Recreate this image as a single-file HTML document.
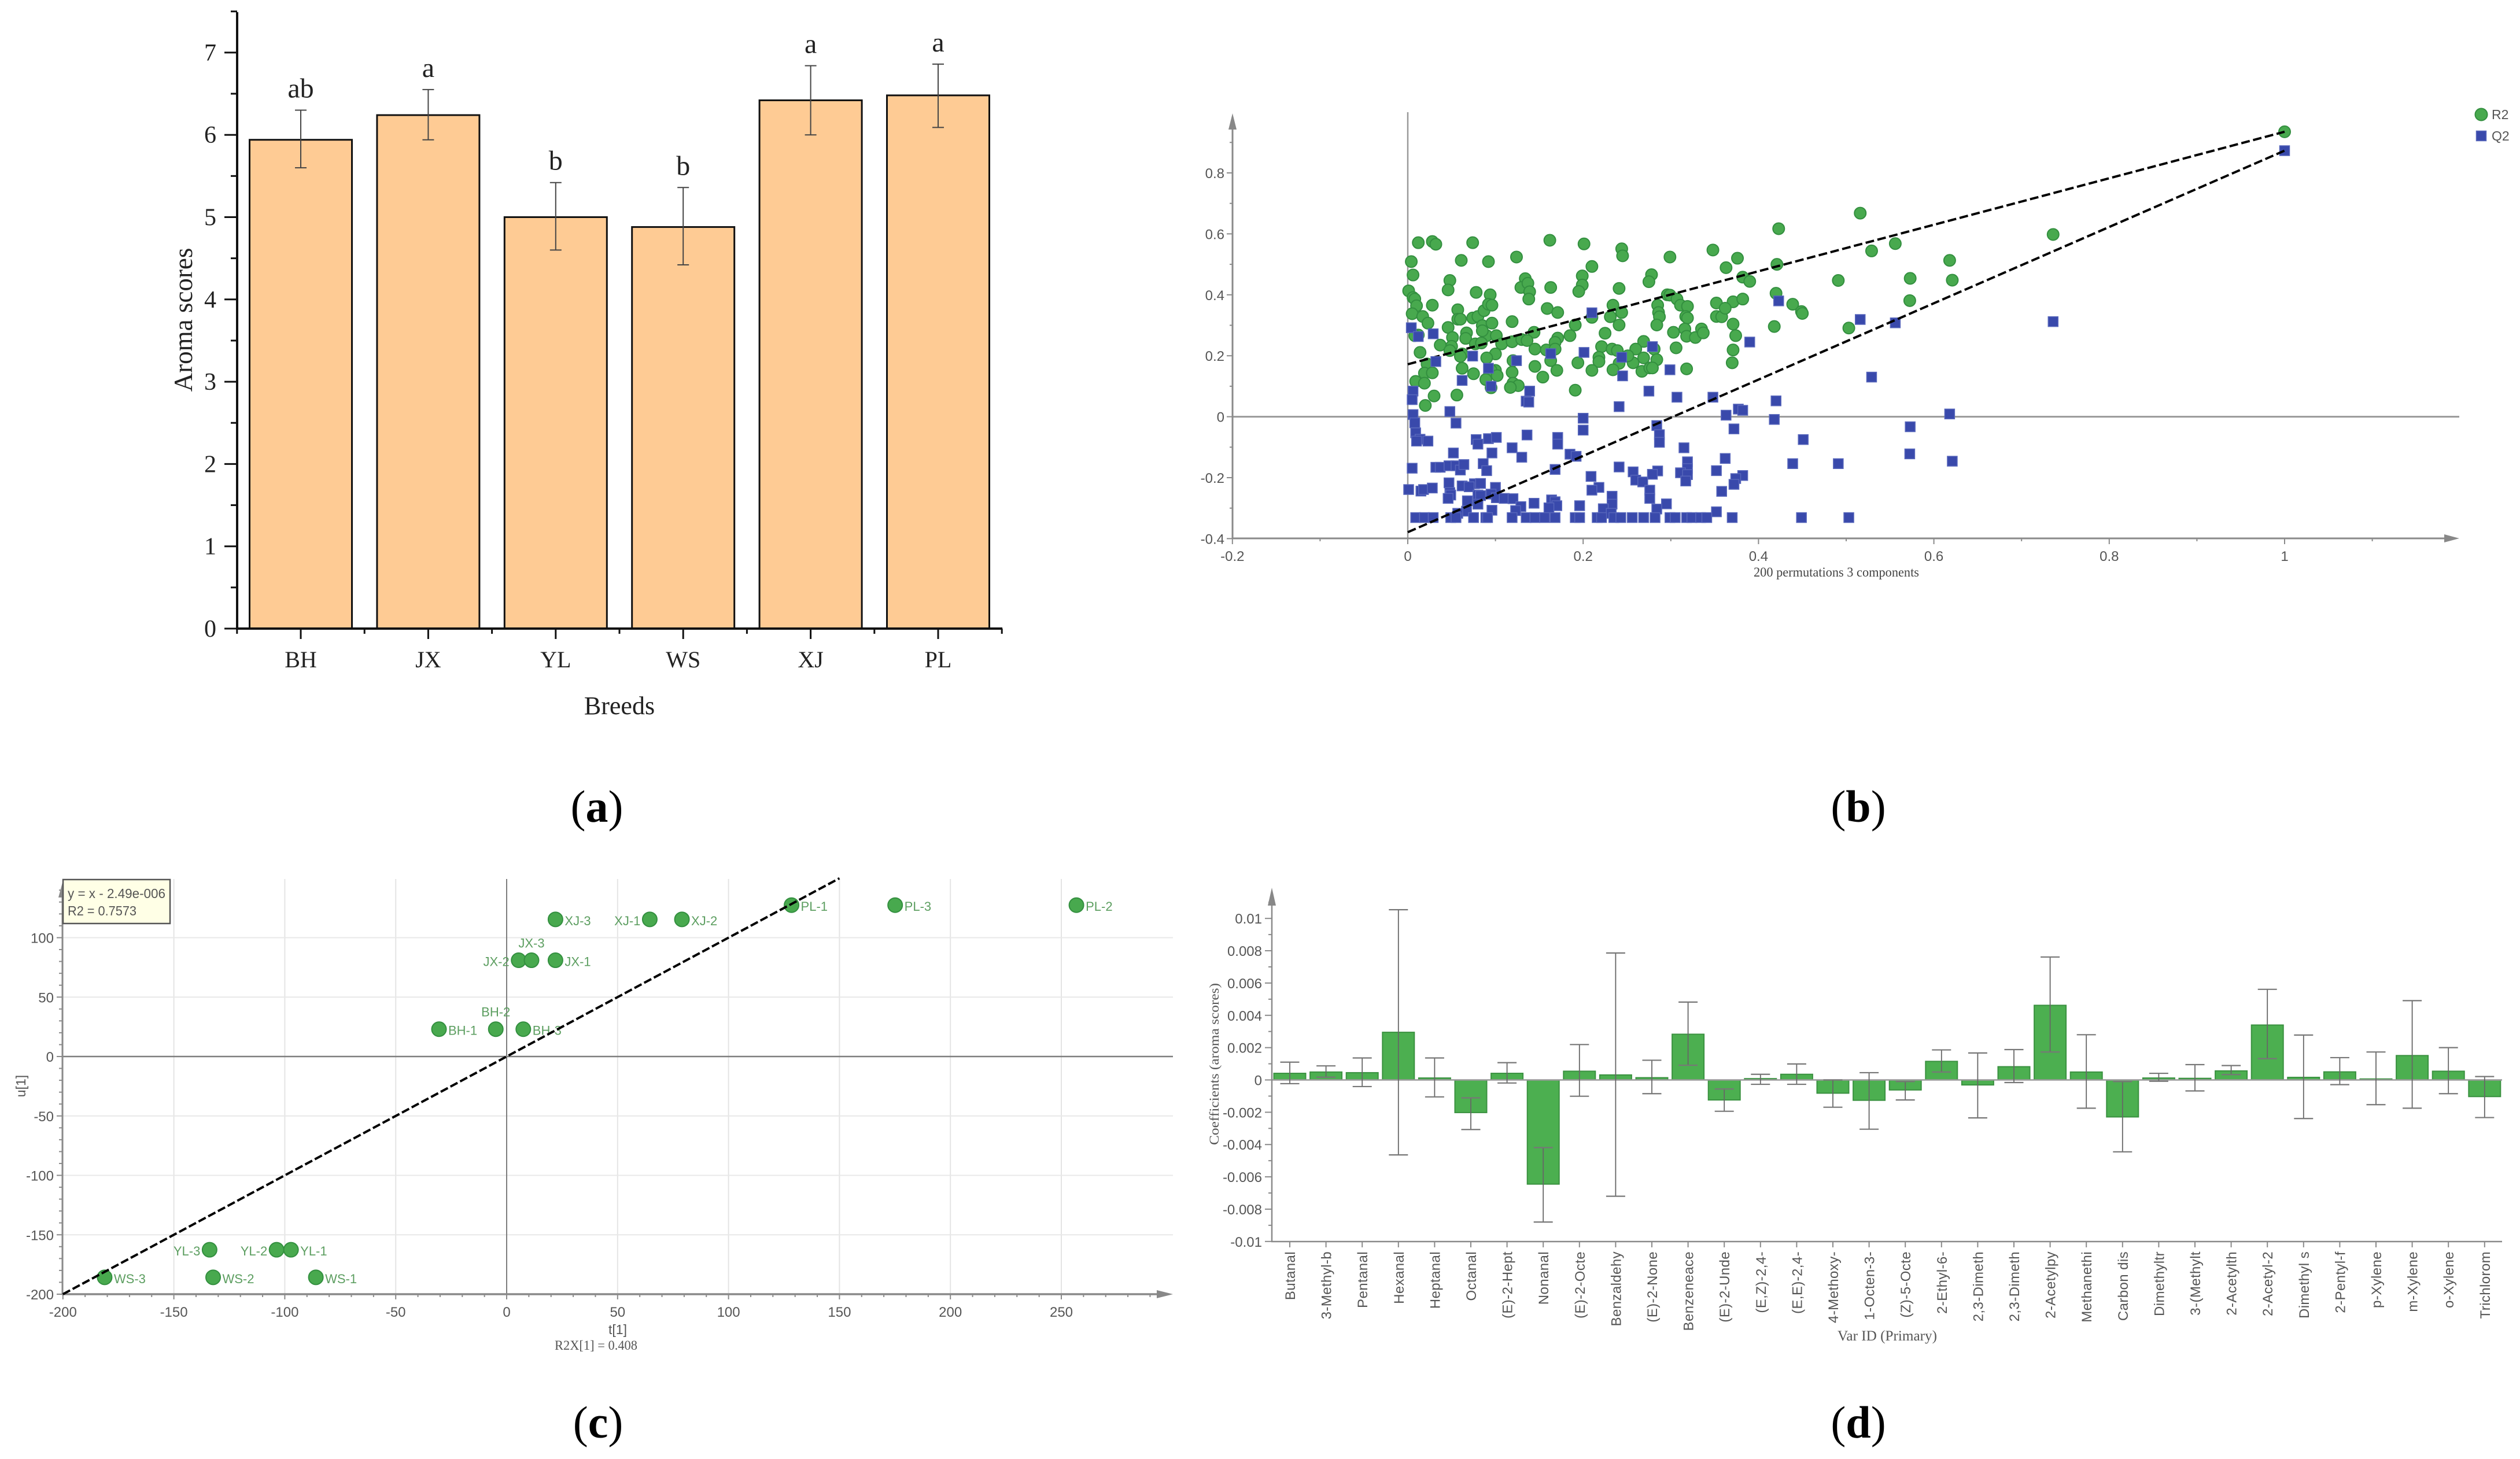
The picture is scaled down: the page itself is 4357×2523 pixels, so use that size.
<!DOCTYPE html>
<html lang="en">
<head>
<meta charset="utf-8">
<title>Aroma scores figure</title>
<style>
html,body{margin:0;padding:0;background:#fff;width:4357px;height:2523px;overflow:hidden}
svg{display:block}
.serif{font-family:"Liberation Serif",serif}
.sans{font-family:"Liberation Sans",sans-serif}
</style>
</head>
<body>
<svg id="fig" xmlns="http://www.w3.org/2000/svg" width="4357" height="2523" viewBox="0 0 4357 2523">
<rect x="0" y="0" width="4357" height="2523" fill="#ffffff"/>
<g id="panelA"></g>
<g id="panelB"></g>
<g id="panelC"></g>
<g id="panelD"></g>
<text class="serif" x="1032" y="1421" font-size="78" text-anchor="middle" fill="#000">(<tspan font-weight="bold">a</tspan>)</text>
<text class="serif" x="3213" y="1421" font-size="78" text-anchor="middle" fill="#000">(<tspan font-weight="bold">b</tspan>)</text>
<text class="serif" x="1034" y="2486" font-size="78" text-anchor="middle" fill="#000">(<tspan font-weight="bold">c</tspan>)</text>
<text class="serif" x="3213" y="2486" font-size="78" text-anchor="middle" fill="#000">(<tspan font-weight="bold">d</tspan>)</text>
</svg>
<script>
/* Panel A data */
const breeds = ["BH","JX","YL","WS","XJ","PL"];
const aromaScores = [5.94,6.24,5.0,4.88,6.42,6.48];
const aromaErrLow = [5.6,5.94,4.6,4.42,6.0,6.09];
const aromaErrHigh = [6.3,6.55,5.42,5.36,6.84,6.86];
const aromaLetters = ["ab","a","b","b","a","a"];
const aromaTicks = [0,1,2,3,4,5,6,7];

/* Panel B data: [correlation, value] */
const r2Points = [[.012,.571],[.028,.575],[.032,.566],[.074,.571],[.162,.579],[.201,.567],[.244,.551],[.245,.528],[.299,.524],[.348,.547],[.376,.520],[.423,.617],[.516,.668],[.529,.544],[.004,.509],[.061,.513],[.092,.509],[.124,.524],[.210,.493],[.363,.489],[.421,.500],[.006,.465],[.048,.447],[.134,.453],[.199,.462],[.278,.466],[.275,.443],[.382,.458],[.390,.444],[.491,.447],[.001,.413],[.046,.416],[.078,.408],[.129,.424],[.137,.438],[.139,.410],[.163,.424],[.199,.432],[.195,.411],[.241,.421],[.420,.405],[.006,.391],[.008,.386],[.010,.364],[.028,.366],[.094,.400],[.138,.386],[.296,.400],[.299,.399],[.307,.386],[.311,.366],[.319,.362],[.285,.366],[.352,.373],[.371,.377],[.382,.386],[.439,.369],[.449,.345],[.450,.339],[.005,.338],[.017,.329],[.023,.307],[.057,.351],[.057,.320],[.060,.320],[.074,.324],[.080,.329],[.087,.348],[.092,.369],[.096,.366],[.159,.355],[.171,.342],[.234,.366],[.244,.342],[.231,.328],[.210,.326],[.286,.342],[.287,.328],[.317,.329],[.319,.324],[.352,.329],[.358,.328],[.362,.356],[.046,.293],[.085,.299],[.096,.307],[.119,.312],[.191,.301],[.241,.301],[.284,.301],[.371,.304],[.418,.296],[.503,.291],[.012,.268],[.008,.266],[.051,.260],[.067,.275],[.066,.257],[.090,.266],[.101,.266],[.085,.282],[.144,.277],[.225,.274],[.303,.277],[.316,.288],[.318,.264],[.328,.260],[.335,.288],[.337,.275],[.374,.266],[.037,.235],[.050,.231],[.048,.217],[.077,.239],[.084,.242],[.107,.239],[.119,.246],[.130,.253],[.136,.250],[.171,.258],[.168,.244],[.185,.266],[.269,.247],[.221,.230],[.014,.211],[.062,.206],[.060,.198],[.100,.206],[.145,.222],[.158,.219],[.168,.222],[.233,.222],[.239,.217],[.260,.222],[.281,.222],[.306,.226],[.371,.219],[.090,.193],[.120,.184],[.163,.184],[.218,.195],[.218,.181],[.269,.193],[.284,.187],[.257,.177],[.251,.200],[.241,.175],[.194,.177],[.370,.177],[.022,.173],[.062,.159],[.145,.165],[.170,.152],[.210,.152],[.234,.154],[.267,.149],[.276,.160],[.279,.160],[.318,.157],[.019,.143],[.028,.144],[.075,.141],[.119,.146],[.100,.152],[.095,.152],[.009,.116],[.019,.110],[.089,.122],[.102,.135],[.154,.130],[.120,.110],[.126,.102],[.117,.096],[.095,.095],[.191,.087],[.030,.068],[.056,.071],[.020,.037],[.736,.598],[.556,.568],[.573,.454],[.618,.513],[.621,.448],[.5725,.381],[1,.935]];
const q2Points = [[.004,.292],[.029,.272],[.012,.263],[.032,.181],[.074,.199],[.092,.159],[.062,.119],[.095,.100],[.124,.184],[.163,.207],[.201,.211],[.210,.341],[.244,.195],[.245,.134],[.279,.230],[.299,.154],[.390,.245],[.423,.380],[.516,.319],[.529,.130],[.006,.084],[.005,.056],[.139,.084],[.135,.051],[.138,.048],[.275,.084],[.307,.064],[.348,.064],[.241,.033],[.420,.052],[.006,.007],[.048,.017],[.363,.005],[.377,.025],[.382,.021],[.418,-.009],[.200,-.005],[.008,-.020],[.055,-.021],[.009,-.053],[.200,-.044],[.284,-.029],[.287,-.059],[.372,-.040],[.014,-.074],[.010,-.080],[.023,-.080],[.136,-.060],[.078,-.075],[.080,-.090],[.092,-.072],[.101,-.068],[.171,-.068],[.171,-.090],[.287,-.084],[.451,-.075],[.052,-.119],[.096,-.119],[.119,-.102],[.130,-.133],[.185,-.123],[.192,-.130],[.315,-.102],[.362,-.137],[.319,-.148],[.005,-.169],[.032,-.166],[.037,-.166],[.047,-.161],[.055,-.161],[.060,-.175],[.064,-.157],[.086,-.154],[.090,-.177],[.168,-.173],[.241,-.165],[.257,-.181],[.285,-.178],[.279,-.189],[.319,-.170],[.311,-.184],[.319,-.190],[.352,-.177],[.439,-.154],[.491,-.154],[.382,-.193],[.209,-.196],[.260,-.208],[.268,-.214],[.317,-.211],[.374,-.203],[.372,-.222],[.047,-.217],[.062,-.227],[.076,-.220],[.083,-.219],[.100,-.232],[.001,-.239],[.015,-.244],[.018,-.239],[.028,-.234],[.048,-.249],[.049,-.257],[.046,-.268],[.070,-.230],[.080,-.257],[.083,-.259],[.095,-.254],[.068,-.276],[.080,-.287],[.101,-.266],[.110,-.268],[.120,-.269],[.218,-.232],[.210,-.241],[.276,-.241],[.358,-.245],[.276,-.268],[.233,-.261],[.233,-.287],[.295,-.286],[.144,-.284],[.164,-.273],[.168,-.279],[.129,-.295],[.170,-.292],[.196,-.292],[.096,-.307],[.161,-.299],[.067,-.310],[.057,-.317],[.284,-.303],[.223,-.302],[.352,-.312],[.123,-.308],[.232,-.317],[.009,-.331],[.019,-.331],[.029,-.331],[.049,-.331],[.055,-.331],[.075,-.331],[.089,-.331],[.091,-.331],[.119,-.331],[.135,-.331],[.145,-.331],[.156,-.331],[.168,-.331],[.191,-.331],[.196,-.331],[.216,-.331],[.221,-.331],[.235,-.331],[.243,-.331],[.256,-.331],[.269,-.331],[.282,-.331],[.299,-.331],[.305,-.331],[.318,-.331],[.324,-.331],[.334,-.331],[.341,-.331],[.370,-.331],[.449,-.331],[.503,-.331],[.736,.312],[.556,.308],[.618,.009],[.573,-.033],[.5725,-.122],[.621,-.146],[1,.873]];
const r2Intercept = 0.172;
const r2End = 0.935;
const q2Intercept = -0.379;
const q2End = 0.873;
const permXTicks = [-0.2,0,0.2,0.4,0.6,0.8,1];
const permYTicks = [-0.4,-0.2,0,0.2,0.4,0.6,0.8];

/* Panel C data */
const sampleNames = ["XJ-3","XJ-1","XJ-2","JX-2","JX-3","JX-1","BH-1","BH-2","BH-3","YL-3","YL-2","YL-1","WS-3","WS-2","WS-1","PL-1","PL-3","PL-2"];
const tScores = [22,64.5,79,5.4,11.2,22,-30.5,-4.9,7.5,-133.9,-103.7,-97.2,-181.2,-132.3,-86,128.4,175.1,256.8];
const uScores = [115.4,115.4,115.4,81,81,81,23,23,23,-162.6,-162.6,-162.6,-185.8,-185.8,-185.8,127.4,127.4,127.4];
const labelSides = ["r","l","r","l","t","r","r","t","r","l","l","r","r","r","r","r","r","r"];
const scoreXTicks = [-200,-150,-100,-50,0,50,100,150,200,250];
const scoreYTicks = [-200,-150,-100,-50,0,50,100];

/* Panel D data (coefficients x 0.001) */
const varNames = ["Butanal","3-Methyl-b","Pentanal","Hexanal","Heptanal","Octanal","(E)-2-Hept","Nonanal","(E)-2-Octe","Benzaldehy","(E)-2-None","Benzeneace","(E)-2-Unde","(E,Z)-2,4-","(E,E)-2,4-","4-Methoxy-","1-Octen-3-","(Z)-5-Octe","2-Ethyl-6-","2,3-Dimeth","2,3-Dimeth","2-Acetylpy","Methanethi","Carbon dis","Dimethyltr","3-(Methylt","2-Acetylth","2-Acetyl-2","Dimethyl s","2-Pentyl-f","p-Xylene","m-Xylene","o-Xylene","Trichlorom"];
const coefValues = [.41,.49,.45,2.95,.12,-2.02,.41,-6.45,.54,.31,.14,2.83,-1.24,.08,.35,-.82,-1.26,-.62,1.15,-.31,.82,4.62,.49,-2.29,.12,.1,.56,3.4,.16,.5,.06,1.51,.54,-1.03];
const coefHigh = [1.1,.87,1.36,10.54,1.36,-1.11,1.07,-4.19,2.19,7.86,1.22,4.82,-.56,.35,.99,0,.45,-.1,1.86,1.67,1.88,7.61,2.8,-.1,.41,.95,.89,5.61,2.78,1.38,1.73,4.91,2,.21];
const coefLow = [-.23,.17,-.41,-4.64,-1.05,-3.07,-.19,-8.8,-1.01,-7.2,-.85,.91,-1.94,-.27,-.27,-1.69,-3.05,-1.24,.49,-2.35,-.16,1.73,-1.75,-4.45,-.08,-.68,.33,1.32,-2.39,-.29,-1.53,-1.75,-.85,-2.33];
const coefTicks = ["-0.01","-0.008","-0.006","-0.004","-0.002","0","0.002","0.004","0.006","0.008","0.01"];

const NS = "http://www.w3.org/2000/svg";
function mk(parent, tag, name, attrs, txt){
  const el = document.createElementNS(NS, tag);
  
  
  for (const k in attrs) el.setAttribute(k, attrs[k]);
  if (txt !== undefined) el.textContent = txt;
  parent.appendChild(el);
  return el;
}
const SERIF = '"Liberation Serif",serif', SANS = '"Liberation Sans",sans-serif';
function line(p,name,x1,y1,x2,y2,stroke,w,extra){
  return mk(p,'line',name,Object.assign({x1,y1,x2,y2,stroke,'stroke-width':w},extra||{}));
}
function text(p,name,x,y,str,size,fam,fill,anchor,extra){
  return mk(p,'text',name,Object.assign({x,y,'font-size':size,'font-family':fam,fill,'text-anchor':anchor||'start'},extra||{}),str);
}

/* ---------- Panel A ---------- */
(function(){
  const g = document.getElementById('panelA');
  const xC = i => 520 + 220.4*i;
  const y = v => 1087 - 142.3*v;
  breeds.forEach((b,i)=>{
    const h = 177;
    mk(g,'rect','bar-'+b,{x:xC(i)-h/2,y:y(aromaScores[i]),width:h,height:1087-y(aromaScores[i]),fill:'#fecb94',stroke:'#111','stroke-width':3});
  });
  breeds.forEach((b,i)=>{
    const x = xC(i);
    line(g,'error-stem-'+b,x,y(aromaErrHigh[i]),x,y(aromaErrLow[i]),'#444',2);
    line(g,'error-cap-high-'+b,x-10,y(aromaErrHigh[i]),x+10,y(aromaErrHigh[i]),'#444',2);
    line(g,'error-cap-low-'+b,x-10,y(aromaErrLow[i]),x+10,y(aromaErrLow[i]),'#444',2);
    text(g,'significance-'+b,x,y(aromaErrHigh[i])-22,aromaLetters[i],48,SERIF,'#222','middle');
    text(g,'x-tick-label-'+b,x,1154,b,40,SERIF,'#222','middle');
    line(g,'x-tick-'+b,x,1087,x,1105,'#111',3);
    line(g,'x-minor-tick-'+b,x-110.2,1087,x-110.2,1096,'#111',3);
  });
  line(g,'x-minor-tick-end',xC(5)+110.2,1087,xC(5)+110.2,1096,'#111',3);
  line(g,'x-axis',408,1087,1733,1087,'#111',4);
  line(g,'y-axis',410,21,410,1088,'#111',4);
  aromaTicks.forEach(t=>{
    line(g,'y-tick-'+t,388,y(t),410,y(t),'#111',3);
    text(g,'y-tick-label-'+t,374,y(t)+14,String(t),42,SERIF,'#222','end');
    line(g,'y-minor-tick-'+t,399,y(t+.5),410,y(t+.5),'#111',3);
  });
  text(g,'y-axis-title',0,0,'Aroma scores',45,SERIF,'#222','middle',{transform:'translate(332 553) rotate(-90)'});
  text(g,'x-axis-title',1071,1235,'Breeds',44,SERIF,'#222','middle');
})();

/* ---------- Panel B ---------- */
(function(){
  const g = document.getElementById('panelB');
  const x = v => 2434 + 1516*v;
  const y = v => 720.6 - 527*v;
  const ax = '#8a8a8a';
  line(g,'x-zero-line',x(0),194,x(0),931,'#999',2.5);
  line(g,'y-zero-line',2131,y(0),4252,y(0),'#999',3);
  line(g,'y-axis',2131,224,2131,932,ax,3);
  line(g,'x-axis',2130,931,4232,931,ax,3);
  mk(g,'polygon','y-axis-arrow',{points:`2131,196 2124,224 2138,224`,fill:'#888'});
  mk(g,'polygon','x-axis-arrow',{points:`4252,931 4226,924 4226,938`,fill:'#888'});
  for(let i=-4;i<=9;i++){
    const v=i/10, major=i%2===0;
    line(g,'y-tick',major?2121:2126,y(v),2131,y(v),ax,2);
  }
  for(let i=-2;i<=11;i++){
    const v=i/10, major=i%2===0||i===10;
    line(g,'x-tick',x(v),931,x(v),major?941:936,ax,2);
  }
  permYTicks.forEach(t=>text(g,'y-tick-label',2117,y(t)+9,String(t),24,SANS,'#555','end'));
  permXTicks.forEach(t=>text(g,'x-tick-label',x(t),970,String(t),24,SANS,'#555','middle'));
  r2Points.forEach(p=>mk(g,'circle','r2-point',{cx:x(p[0]),cy:y(p[1]),r:10,fill:'#48a94e',stroke:'#338f3f','stroke-width':2}));
  line(g,'r2-trend-line',x(0),y(r2Intercept),x(1),y(r2End),'#000',4,{'stroke-dasharray':'15 6'});
  q2Points.forEach(p=>mk(g,'rect','q2-point',{x:x(p[0])-8.5,y:y(p[1])-8.5,width:17,height:17,fill:'#3949ab',stroke:'#5766bb','stroke-width':1.5}));
  line(g,'q2-trend-line',x(0),y(q2Intercept),x(1),y(q2End),'#000',4,{'stroke-dasharray':'15 6'});
  text(g,'x-axis-title',3032,997,'200 permutations 3 components',23,SERIF,'#444','start',{textLength:286,lengthAdjust:'spacingAndGlyphs'});
  mk(g,'circle','legend-r2-marker',{cx:4290,cy:198,r:10.5,fill:'#48a94e',stroke:'#338f3f','stroke-width':2});
  text(g,'legend-r2-label',4308,206,'R2',23,SANS,'#555');
  mk(g,'rect','legend-q2-marker',{x:4281.5,y:226.5,width:17,height:17,fill:'#3949ab',stroke:'#5766bb','stroke-width':1.5});
  text(g,'legend-q2-label',4308,243,'Q2',23,SANS,'#555');
})();

/* ---------- Panel C ---------- */
(function(){
  const g = document.getElementById('panelC');
  const x = v => 876 + 3.836*v;
  const y = v => 1827 - 2.055*v;
  const ax = '#8a8a8a';
  scoreXTicks.forEach(t=>{ if(t!==0 && t!==-200) line(g,'x-gridline',x(t),1520,x(t),2238,'#e4e4e4',2); });
  scoreYTicks.forEach(t=>{ if(t!==0 && t!==-200) line(g,'y-gridline',109,y(t),2028,y(t),'#e8e8e8',2); });
  line(g,'x-zero-line',x(0),1520,x(0),2238,'#7d7d7d',2);
  line(g,'y-zero-line',109,y(0),2028,y(0),'#7d7d7d',2.5);
  line(g,'y-axis',108,1548,108,2239,ax,3);
  line(g,'x-axis',107,2238,2002,2238,ax,3.5);
  mk(g,'polygon','y-axis-arrow',{points:`108,1526 101,1552 115,1552`,fill:'#888'});
  mk(g,'polygon','x-axis-arrow',{points:`2028,2238 2000,2231 2000,2245`,fill:'#888'});
  for(let t=-200;t<=140;t+=10){
    line(g,'y-tick',t%50===0?98:102,y(t),108,y(t),ax,2);
  }
  for(let t=-200;t<=290;t+=10){
    line(g,'x-tick',x(t),2238,x(t),t%50===0?2247:2243,ax,2);
  }
  scoreYTicks.forEach(t=>text(g,'y-tick-label',93,y(t)+9,String(t),24,SANS,'#555','end'));
  scoreXTicks.forEach(t=>text(g,'x-tick-label',x(t),2277,String(t),24,SANS,'#555','middle'));
  sampleNames.forEach((n,i)=>{
    const cx=x(tScores[i]), cy=y(uScores[i]);
    mk(g,'circle','sample-point-'+n,{cx,cy,r:12.5,fill:'#48a94e',stroke:'#338f3f','stroke-width':2});
    const s=labelSides[i];
    if(s==='r') text(g,'sample-label-'+n,cx+16,cy+10,n,22,SANS,'#5c9e60','start');
    else if(s==='l') text(g,'sample-label-'+n,cx-16,cy+10,n,22,SANS,'#5c9e60','end');
    else text(g,'sample-label-'+n,cx,cy-22,n,22,SANS,'#5c9e60','middle');
  });
  line(g,'regression-line',x(-200),y(-200),x(150),y(150),'#000',4,{'stroke-dasharray':'14 5'});
  mk(g,'rect','equation-box',{x:109,y:1521,width:185,height:76,fill:'#ffffe6',stroke:'#555','stroke-width':2.5});
  text(g,'equation-text',117,1553,'y = x - 2.49e-006',23,SANS,'#555','start',{textLength:169,lengthAdjust:'spacingAndGlyphs'});
  text(g,'r2-text',117,1583,'R2 = 0.7573',23,SANS,'#555','start',{textLength:119,lengthAdjust:'spacingAndGlyphs'});
  text(g,'x-axis-title',1068,2307,'t[1]',23,SANS,'#555','middle');
  text(g,'x-axis-subtitle',959,2334,'R2X[1] = 0.408',23,SERIF,'#555','start',{textLength:143,lengthAdjust:'spacingAndGlyphs'});
  text(g,'y-axis-title',0,0,'u[1]',23,SANS,'#555','middle',{transform:'translate(44 1878) rotate(-90)'});
})();

/* ---------- Panel D ---------- */
(function(){
  const g = document.getElementById('panelD');
  const x = i => 2230 + 62.6*i;
  const y = v => 1867.5 - 27.93*v;
  const ax = '#8a8a8a';
  varNames.forEach((n,i)=>{
    const top=Math.min(y(coefValues[i]),y(0)), h=Math.abs(y(coefValues[i])-y(0));
    mk(g,'rect','bar-'+n,{x:x(i)-27.5,y:top,width:55,height:h,fill:'#4caf50',stroke:'#3a9140','stroke-width':2});
  });
  line(g,'zero-line',2199,y(0),4326,y(0),'#9a9a9a',2.5);
  varNames.forEach((n,i)=>{
    const cx=x(i);
    line(g,'error-stem-'+n,cx,y(coefHigh[i]),cx,y(coefLow[i]),'#666',1.8);
    line(g,'error-cap-high-'+n,cx-16.5,y(coefHigh[i]),cx+16.5,y(coefHigh[i]),'#777',2.2);
    line(g,'error-cap-low-'+n,cx-16.5,y(coefLow[i]),cx+16.5,y(coefLow[i]),'#777',2.2);
    line(g,'x-tick-'+n,cx,2147,cx,2157,ax,2);
    text(g,'x-tick-label-'+n,0,0,n,24,SANS,'#555','end',{transform:`translate(${cx+9} 2164) rotate(-90)`,'letter-spacing':'0.4'});
  });
  line(g,'y-axis',2199,1560,2199,2148,ax,2.5);
  line(g,'x-axis',2198,2147,4326,2147,ax,2.5);
  mk(g,'polygon','y-axis-arrow',{points:`2199,1535 2192,1566 2206,1566`,fill:'#888'});
  for(let t=-10;t<=11;t++){
    line(g,'y-tick',t%2===0?2187:2193,y(t),2199,y(t),ax,2);
  }
  coefTicks.forEach(t=>text(g,'y-tick-label',2182,y(parseFloat(t)*1000)+9,t,24,SANS,'#555','end'));
  text(g,'y-axis-title',0,0,'Coefficients (aroma scores)',23,SERIF,'#555','middle',{transform:'translate(2107 1840) rotate(-90)',textLength:280,lengthAdjust:'spacingAndGlyphs'});
  text(g,'x-axis-title',3177,2318,'Var ID (Primary)',25,SERIF,'#555','start',{textLength:172,lengthAdjust:'spacingAndGlyphs'});
})();
</script>
</body>
</html>
